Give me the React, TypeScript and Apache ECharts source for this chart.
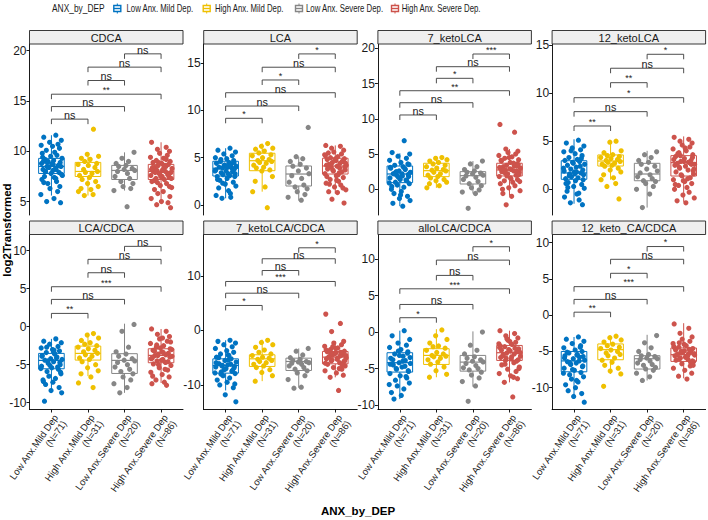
import React, { useEffect, useRef } from "react";
import * as echarts from "echarts";

const FONT = "'Liberation Sans', Arial, Helvetica, sans-serif";
const COLORS = ["#0073C2", "#EFC000", "#868686", "#CD534C"];

const GROUP_LABELS = ["Low Anx.Mild Dep", "High Anx.Mild Dep", "Low Anx.Severe Dep", "High Anx.Severe Dep"];
const GROUP_N = [71, 31, 20, 86];
const LEGEND_NAMES = ["Low Anx. Mild Dep.", "High Anx. Mild Dep.", "Low Anx. Severe Dep.", "High Anx. Severe Dep."];
const LEGEND_TITLE = "ANX_by_DEP";
const X_TITLE = "ANX_by_DEP";
const Y_TITLE = "log2Transformed";

const PANEL_TITLES = ["CDCA", "LCA", "7_ketoLCA", "12_ketoLCA", "LCA/CDCA", "7_ketoLCA/CDCA", "alloLCA/CDCA", "12_keto_CA/CDCA"];
const Y_TICKS = [
  [5, 10, 15, 20], [0, 5, 10, 15], [0, 5, 10, 15, 20], [0, 5, 10, 15],
  [-10, -5, 0, 5, 10], [-10, 0, 10], [-10, -5, 0, 5, 10], [-10, -5, 0, 5, 10],
];
const Y_RANGES = [
  [3.67, 20.67], [-1.07, 17.04], [-3.65, 20.61], [-2.67, 15.1],
  [-10.89, 12.13], [-14.5, 17.61], [-10.63, 13.41], [-13.0, 11.13],
];

// comparisons (group numbers)
const PAIRS = [[1, 2], [1, 3], [1, 4], [2, 3], [2, 4], [3, 4]];

// box stats per group: [lower whisker, Q1, median, Q3, upper whisker]
const BOX_CDCA = [[5.6, 7.8, 8.5, 9.3, 11.6], [5.6, 7.5, 8.0, 8.9, 9.8], [6.1, 7.2, 8.1, 8.6, 9.9], [5.0, 7.2, 8.0, 8.7, 10.9]];
const BOX_LCA = [[0.7, 3.06, 3.88, 4.62, 6.0], [1.4, 3.62, 4.68, 5.47, 6.5], [0.45, 2.0, 3.27, 4.12, 5.1], [1.2, 3.27, 4.12, 4.94, 6.3]];
const BOX_7K = [[-2.4, 0.94, 2.17, 3.3, 5.1], [0.2, 1.79, 2.64, 3.69, 4.6], [-0.6, 0.75, 1.93, 2.5, 4.0], [-0.9, 1.89, 2.74, 3.69, 5.7]];
const BOX_12K = [[-1.5, 1.04, 1.7, 2.97, 5.2], [1.0, 2.42, 2.94, 3.57, 5.0], [-1.9, 0.89, 1.59, 2.7, 4.0], [-1.3, 1.38, 2.77, 3.5, 5.5]];
const BOX_LCA_CDCA = [[-8.7, -5.53, -4.43, -3.51, -1.6], [-6.5, -4.39, -3.51, -2.55, -0.8], [-8.7, -6.15, -4.43, -3.55, 0.4], [-7.4, -4.74, -3.77, -2.9, -0.3]];
const BOX_7K_CDCA = [[-11.0, -7.83, -6.42, -5.2, -1.8], [-9.3, -6.6, -5.2, -4.46, -1.7], [-10.5, -7.34, -5.69, -5.08, -3.3], [-8.6, -6.12, -4.89, -3.85, -2.0]];
const BOX_ALLO_CDCA = [[-9.2, -5.49, -4.2, -2.83, 0.2], [-6.2, -4.44, -3.2, -2.28, 0.4], [-7.5, -5.36, -4.12, -3.2, 0.1], [-6.9, -3.89, -2.83, -1.83, 0.2]];
const BOX_12KCA_CDCA = [[-11.0, -7.8, -6.3, -5.0, -3.0], [-8.1, -6.14, -4.75, -3.96, -2.8], [-9.0, -7.42, -6.0, -5.58, -2.7], [-8.7, -6.37, -5.44, -4.52, -1.1]];

// observations per group (log2 values)
const PTS_CDCA = [
  [11.6, 11.4, 11.1, 10.9, 10.7, 10.6, 10.5, 10.3, 10.1, 9.9, 9.8, 9.6, 9.5, 9.3, 9.2, 9.1, 9.0, 8.9, 8.8, 8.7, 8.6, 8.5, 8.5, 8.4, 8.3, 8.2, 8.1, 8.0, 7.9, 7.8, 7.7, 7.5, 7.4, 7.2, 7.0, 6.8, 6.5, 6.3, 6.0, 5.7, 5.3, 5.0, 4.9, 9.0, 8.8, 8.6, 8.4, 8.2, 8.0, 7.6, 9.4, 8.7, 8.9, 7.3, 6.9],
  [12.2, 9.7, 9.5, 9.3, 9.2, 9.0, 8.8, 8.7, 8.6, 8.4, 8.2, 8.0, 7.9, 7.8, 7.6, 7.4, 7.2, 7.0, 6.8, 6.5, 6.3, 6.2, 6.0, 5.7, 5.6],
  [9.9, 9.3, 9.0, 8.8, 8.6, 8.5, 8.3, 8.2, 8.1, 8.0, 7.8, 7.5, 7.3, 7.0, 6.8, 6.5, 6.3, 6.1, 4.5],
  [10.9, 10.4, 10.2, 10.0, 9.8, 9.6, 9.4, 9.3, 9.1, 9.0, 8.9, 8.8, 8.7, 8.6, 8.5, 8.4, 8.3, 8.3, 8.2, 8.1, 8.0, 8.0, 7.9, 7.8, 7.7, 7.6, 7.5, 7.4, 7.3, 7.2, 7.0, 6.8, 6.6, 6.4, 6.2, 6.0, 5.8, 5.5, 5.3, 5.0, 4.9, 4.7, 4.4, 8.9, 8.6, 8.4, 8.1, 7.9, 7.7, 7.5, 7.3, 7.1, 8.5, 8.2, 9.2, 6.9, 6.5, 7.8],
];
const PTS_LCA = [
  [6.0, 5.8, 5.6, 5.4, 5.2, 5.0, 4.9, 4.7, 4.6, 4.5, 4.4, 4.3, 4.2, 4.1, 4.0, 4.0, 3.9, 3.8, 3.7, 3.6, 3.5, 3.4, 3.3, 3.2, 3.1, 3.0, 2.8, 2.6, 2.4, 2.2, 2.0, 1.8, 1.5, 1.0, 0.8, 0.7, 4.5, 4.2, 3.9, 3.6, 3.3, 4.8, 3.0, 2.7, 4.1, 3.8, 2.3, 1.2],
  [6.5, 6.2, 6.0, 5.9, 5.7, 5.5, 5.3, 5.2, 5.0, 4.8, 4.7, 4.6, 4.5, 4.4, 4.2, 4.0, 3.9, 3.7, 3.6, 3.0, 2.5, 1.9, 1.4, -0.3],
  [8.2, 5.1, 4.9, 4.6, 4.3, 4.1, 3.9, 3.6, 3.3, 3.1, 2.8, 2.4, 2.1, 1.9, 1.7, 1.4, 1.1, 0.8, 0.5],
  [6.3, 6.2, 6.0, 5.8, 5.6, 5.4, 5.3, 5.1, 5.0, 4.9, 4.8, 4.7, 4.6, 4.5, 4.4, 4.3, 4.2, 4.2, 4.1, 4.0, 3.9, 3.8, 3.7, 3.6, 3.5, 3.3, 3.1, 2.9, 2.7, 2.5, 2.3, 2.1, 1.9, 1.6, 1.4, 1.3, 0.6, 0.2, 5.2, 4.9, 4.6, 4.3, 4.0, 3.7, 3.4, 3.0, 2.6, 2.2, 1.8, 4.8, 4.4, 5.5, 3.2],
];
const PTS_7K = [
  [6.9, 5.2, 5.0, 4.7, 4.4, 4.1, 3.8, 3.6, 3.4, 3.2, 3.0, 2.8, 2.6, 2.4, 2.2, 2.2, 2.0, 1.8, 1.6, 1.4, 1.2, 1.0, 0.8, 0.6, 0.3, 0.0, -0.3, -0.6, -1.0, -1.3, -1.6, -2.0, -2.4, 3.1, 2.9, 2.5, 2.1, 1.7, 1.3, 0.9, 1.9, 2.3, 3.5, 0.4, -0.8],
  [4.5, 4.4, 4.2, 4.0, 3.8, 3.6, 3.4, 3.2, 3.0, 2.8, 2.7, 2.6, 2.4, 2.2, 2.0, 1.8, 1.6, 1.4, 1.2, 1.0, 0.8, 0.5, 0.2],
  [4.0, 3.6, 3.2, 2.8, 2.6, 2.4, 2.3, 2.2, 2.0, 1.9, 1.7, 1.4, 1.1, 0.8, 0.5, 0.2, -0.1, -0.4, -0.6, -2.7],
  [9.2, 8.1, 5.7, 5.4, 5.2, 5.0, 4.8, 4.6, 4.4, 4.2, 4.0, 3.8, 3.6, 3.4, 3.3, 3.2, 3.0, 2.9, 2.8, 2.7, 2.6, 2.5, 2.4, 2.2, 2.0, 1.8, 1.6, 1.4, 1.2, 1.0, 0.8, 0.5, 0.2, -0.2, -0.6, -1.0, -2.2, 3.5, 3.1, 2.9, 2.6, 2.3, 2.1, 1.9, 3.7, 4.1, 1.5, 2.7, 3.3, 4.5, 1.1, 0.0],
];
const PTS_12K = [
  [5.1, 4.8, 4.5, 4.3, 4.1, 3.9, 3.7, 3.5, 3.3, 3.1, 3.0, 2.9, 2.7, 2.6, 2.5, 2.3, 2.1, 2.0, 1.9, 1.8, 1.7, 1.6, 1.5, 1.3, 1.2, 1.1, 0.9, 0.7, 0.5, 0.3, 0.1, -0.2, -0.5, -0.8, -1.1, -1.4, -1.6, 2.8, 2.4, 2.2, 1.8, 1.4, 1.0, 0.6, 1.6, 3.2, 4.0, -0.4, 0.2],
  [5.0, 4.9, 4.0, 3.8, 3.6, 3.5, 3.4, 3.3, 3.2, 3.1, 3.0, 2.9, 2.8, 2.7, 2.6, 2.5, 2.4, 2.2, 2.0, 1.8, 1.5, 1.2, 1.0, 0.6, 0.3, -1.0],
  [3.9, 3.6, 3.3, 3.0, 2.8, 2.6, 2.4, 2.1, 1.9, 1.7, 1.5, 1.3, 1.1, 0.9, 0.8, 0.6, 0.3, 0.0, -0.5, -1.9],
  [5.4, 5.2, 5.0, 4.8, 4.6, 4.4, 4.2, 4.0, 3.8, 3.6, 3.4, 3.2, 3.0, 2.9, 2.8, 2.7, 2.6, 2.5, 2.4, 2.2, 2.0, 1.8, 1.6, 1.4, 1.2, 1.0, 0.8, 0.6, 0.4, 0.2, 0.0, -0.3, -0.6, -0.9, -1.2, -1.4, 3.5, 3.3, 3.1, 2.9, 2.7, 2.3, 1.9, 1.5, 1.1, 0.5, 4.3, 3.7, 2.6, 0.9, 2.1],
];
const PTS_LCA_CDCA = [
  [-1.6, -1.9, -2.1, -2.3, -2.6, -2.8, -3.0, -3.2, -3.4, -3.6, -3.8, -4.0, -4.2, -4.3, -4.4, -4.6, -4.8, -5.0, -5.2, -5.4, -5.6, -5.9, -6.2, -6.5, -6.8, -7.0, -7.3, -7.6, -8.0, -8.4, -8.7, -9.8, -3.5, -3.9, -4.1, -4.5, -4.7, -5.1, -5.3, -5.5, -3.1, -2.7, -6.0, -7.2],
  [-0.9, -1.1, -1.5, -1.8, -2.1, -2.3, -2.5, -2.7, -2.9, -3.1, -3.3, -3.5, -3.7, -3.9, -4.1, -4.3, -4.6, -5.0, -5.4, -5.8, -6.2, -6.6, -7.4, -8.0],
  [0.3, -0.6, -2.7, -3.3, -3.6, -3.9, -4.2, -4.4, -4.5, -4.7, -5.0, -5.3, -5.6, -5.9, -6.2, -6.6, -7.0, -7.5, -8.0, -8.7],
  [-0.3, -0.6, -1.0, -1.3, -1.6, -1.9, -2.2, -2.5, -2.7, -2.9, -3.1, -3.3, -3.5, -3.6, -3.7, -3.8, -3.9, -4.1, -4.3, -4.5, -4.7, -4.9, -5.1, -5.4, -5.7, -6.0, -6.3, -6.6, -7.0, -7.3, -7.5, -7.7, -2.8, -3.0, -3.2, -3.4, -3.8, -4.0, -4.2, -4.4, -4.6, -2.4, -2.0, -5.0, -5.6, -6.5, -1.5],
];
const PTS_7K_CDCA = [
  [-1.8, -2.0, -2.3, -2.6, -3.0, -3.3, -3.7, -4.0, -4.3, -4.6, -4.9, -5.2, -5.5, -5.8, -6.1, -6.3, -6.4, -6.6, -6.7, -7.0, -7.3, -7.6, -7.9, -8.3, -8.7, -9.1, -9.5, -10.0, -10.5, -11.8, -13.1, -5.0, -5.4, -5.9, -6.2, -6.5, -6.9, -7.2, -7.5, -7.8, -4.5, -8.0, -9.8],
  [-1.8, -2.2, -2.6, -3.1, -3.6, -4.0, -4.3, -4.6, -4.9, -5.1, -5.3, -5.5, -5.7, -5.9, -6.2, -6.5, -6.8, -7.2, -7.7, -8.3, -9.3],
  [-3.3, -3.8, -4.5, -5.0, -5.3, -5.5, -5.7, -5.8, -5.9, -6.0, -6.2, -6.5, -6.8, -7.1, -7.4, -7.8, -8.3, -9.0, -10.4, -10.6],
  [3.0, 1.3, -0.2, -2.0, -2.3, -2.6, -2.9, -3.2, -3.5, -3.8, -3.9, -4.1, -4.4, -4.5, -4.7, -4.8, -5.0, -5.2, -5.3, -5.6, -5.9, -6.2, -6.5, -6.8, -7.1, -7.4, -7.8, -8.2, -8.6, -11.0, -3.6, -4.0, -4.3, -4.6, -4.9, -5.1, -5.4, -5.7, -6.0, -3.3, -6.4, -4.2, -5.5, -3.0, -7.0],
];
const PTS_ALLO_CDCA = [
  [0.2, -0.5, -1.0, -1.5, -1.8, -2.1, -2.4, -2.7, -3.0, -3.3, -3.6, -3.9, -4.2, -4.3, -4.5, -4.8, -5.1, -5.4, -5.7, -6.0, -6.3, -6.6, -7.0, -7.4, -7.8, -8.3, -8.7, -9.2, -2.9, -3.2, -3.5, -3.8, -4.0, -4.4, -4.7, -5.0, -5.3, -2.6, -6.1, -7.2],
  [0.3, -0.5, -1.0, -1.5, -1.9, -2.0, -2.2, -2.5, -2.8, -3.0, -3.2, -3.3, -3.4, -3.6, -3.8, -4.1, -4.4, -4.8, -5.3, -5.8, -6.2],
  [0.0, -1.8, -2.5, -3.0, -3.4, -3.6, -3.8, -4.0, -4.1, -4.3, -4.6, -4.9, -5.0, -5.2, -5.5, -5.9, -6.3, -6.8, -7.4, -9.5],
  [0.2, -0.2, -0.5, -0.8, -1.1, -1.4, -1.6, -1.7, -2.0, -2.3, -2.5, -2.6, -2.7, -2.9, -3.0, -3.1, -3.3, -3.5, -3.7, -3.9, -4.2, -4.5, -4.8, -5.1, -5.4, -5.7, -6.0, -6.4, -6.9, -8.9, -1.9, -2.2, -2.4, -2.8, -3.2, -3.4, -3.6, -3.8, -2.1, -1.3, -4.0, -4.4, -5.0, -0.9, -6.2],
];
const PTS_12KCA_CDCA = [
  [-3.0, -3.3, -3.6, -3.9, -4.2, -4.5, -4.8, -5.0, -5.2, -5.4, -5.6, -5.8, -6.0, -6.2, -6.4, -6.6, -6.8, -7.0, -7.3, -7.6, -7.9, -8.2, -8.5, -8.8, -9.2, -9.6, -10.0, -10.4, -10.8, -11.2, -12.0, -5.1, -5.5, -5.9, -6.3, -6.7, -7.1, -7.5, -4.4, -8.0, -9.0, -6.5, -5.7],
  [-2.9, -3.1, -3.4, -3.7, -4.0, -4.2, -4.4, -4.6, -4.8, -5.0, -5.2, -5.4, -5.6, -5.9, -6.2, -6.5, -6.9, -7.3, -7.7, -8.1, -9.8],
  [-2.8, -3.8, -4.5, -5.0, -5.4, -5.6, -5.7, -5.9, -6.0, -6.1, -6.3, -6.6, -6.8, -6.9, -7.2, -7.4, -7.6, -8.0, -8.5, -9.0],
  [-1.2, -1.8, -2.5, -3.0, -3.3, -3.6, -3.9, -4.2, -4.4, -4.6, -4.8, -4.9, -5.0, -5.2, -5.3, -5.4, -5.5, -5.6, -5.8, -6.0, -6.1, -6.2, -6.4, -6.7, -7.0, -7.3, -7.6, -8.0, -8.4, -8.8, -4.5, -4.7, -5.1, -5.3, -5.5, -5.7, -5.9, -6.3, -4.3, -4.0, -6.5, -3.8, -6.9, -5.0, -5.6],
];

// significance brackets: heights (per pair) and labels
const BRK_Y = [
  [13.2, 14.45, 15.68, 17.04, 18.37, 19.69],
  [9.17, 10.47, 11.88, 13.23, 14.58, 15.99],
  [10.54, 12.28, 13.98, 15.74, 17.39, 19.19],
  [6.58, 8.07, 9.52, 11.08, 12.58, 14.03],
  [1.75, 3.59, 5.26, 7.1, 8.86, 10.57],
  [4.59, 6.84, 8.99, 11.0, 13.16, 15.17],
  [1.98, 3.8, 5.95, 7.79, 9.89, 11.73],
  [0.42, 2.18, 3.94, 5.78, 7.71, 9.47],
];
const BRK_LAB = [
  ["ns", "ns", "**", "ns", "ns", "ns"],
  ["*", "ns", "ns", "*", "ns", "*"],
  ["ns", "ns", "**", "*", "ns", "***"],
  ["**", "ns", "*", "**", "ns", "*"],
  ["**", "ns", "***", "ns", "ns", "ns"],
  ["*", "ns", "***", "ns", "ns", "*"],
  ["*", "ns", "***", "ns", "ns", "*"],
  ["**", "ns", "***", "*", "ns", "*"],
];

const BOXES = [BOX_CDCA, BOX_LCA, BOX_7K, BOX_12K, BOX_LCA_CDCA, BOX_7K_CDCA, BOX_ALLO_CDCA, BOX_12KCA_CDCA];
const POINTS = [PTS_CDCA, PTS_LCA, PTS_7K, PTS_12K, PTS_LCA_CDCA, PTS_7K_CDCA, PTS_ALLO_CDCA, PTS_12KCA_CDCA];

// horizontal jitter offsets (category units), hand-set
const JITTER = [0.12, -0.21, 0.27, -0.05, 0.18, -0.28, 0.03, 0.22, -0.14, 0.09, -0.25, 0.15, -0.02, 0.29, -0.18, 0.06, -0.09, 0.24, -0.27, 0.01, 0.19, -0.12, 0.26, -0.07, 0.11, -0.23, 0.04, -0.16, 0.21, -0.01, 0.28, -0.19, 0.08, -0.26, 0.14, -0.1, 0.23, -0.04, 0.17, -0.29, 0.07, -0.13, 0.25, -0.22, 0.02, 0.2, -0.08, 0.13, -0.17, 0.3, -0.24, 0.05, -0.11];

// layout
const COL_LEFT = [29.5, 203.7, 377.9, 552.1];
const PANEL_W = 153.5;
const ROW_TOP = [44, 234.5];
const ROW_H = [171, 175];
const STRIP_H = 13.5;
const BOX_W = 0.7;
const TIP_PX = 5;

function buildOption() {
  const grids: any[] = [];
  const xAxes: any[] = [];
  const yAxes: any[] = [];
  const series: any[] = [];
  const graphics: any[] = [];

  PANEL_TITLES.forEach((title, p) => {
    const row = p < 4 ? 0 : 1;
    const col = p % 4;
    const left = COL_LEFT[col];
    const top = ROW_TOP[row];
    grids.push({ left, top, width: PANEL_W, height: ROW_H[row], containLabel: false });
    const bottom = row === 1;
    xAxes.push({
      type: "value", gridIndex: p, min: 0.4, max: 4.6,
      axisLine: { show: bottom, onZero: false, lineStyle: { color: "#000", width: 0.9 } },
      axisTick: { show: bottom, customValues: [1, 2, 3, 4], length: 3, lineStyle: { color: "#000", width: 0.9 } },
      axisLabel: {
        show: bottom, customValues: [1, 2, 3, 4], rotate: 55, margin: 3,
        align: "right", verticalAlign: "top", lineHeight: 10.5,
        fontSize: 9.6, fontFamily: FONT, color: "#1a1a1a",
        formatter: (v: number) => `${GROUP_LABELS[Math.round(v) - 1]}\n(N=${GROUP_N[Math.round(v) - 1]})`,
      },
      splitLine: { show: false },
    });
    yAxes.push({
      type: "value", gridIndex: p, min: Y_RANGES[p][0], max: Y_RANGES[p][1],
      axisLine: { show: true, onZero: false, lineStyle: { color: "#000", width: 0.9 } },
      axisTick: { show: true, customValues: Y_TICKS[p], length: 3, lineStyle: { color: "#000", width: 0.9 } },
      axisLabel: { customValues: Y_TICKS[p], fontSize: 12, fontFamily: FONT, color: "#1a1a1a", margin: 3 },
      splitLine: { show: false },
    });

    // boxes
    series.push({
      type: "custom", xAxisIndex: p, yAxisIndex: p, silent: true, z: 2,
      data: BOXES[p].map((b, g) => [g + 1, b[0], b[1], b[2], b[3], b[4], g]),
      encode: { x: 0, y: [1, 2, 3, 4, 5] },
      renderItem: (_params: any, api: any) => {
        const x = api.value(0);
        const lo = api.coord([x, api.value(1)]);
        const q1 = api.coord([x, api.value(2)]);
        const md = api.coord([x, api.value(3)]);
        const q3 = api.coord([x, api.value(4)]);
        const hi = api.coord([x, api.value(5)]);
        const w = api.size([BOX_W, 0])[0];
        const c = COLORS[api.value(6)];
        const l = q1[0] - w / 2;
        return {
          type: "group",
          children: [
            { type: "line", shape: { x1: hi[0], y1: hi[1], x2: q3[0], y2: q3[1] }, style: { stroke: c, lineWidth: 1 } },
            { type: "line", shape: { x1: q1[0], y1: q1[1], x2: lo[0], y2: lo[1] }, style: { stroke: c, lineWidth: 1 } },
            { type: "rect", shape: { x: l, y: q3[1], width: w, height: q1[1] - q3[1] }, style: { fill: "#fff", stroke: c, lineWidth: 1 } },
            { type: "line", shape: { x1: l, y1: md[1], x2: l + w, y2: md[1] }, style: { stroke: c, lineWidth: 1.2 } },
          ],
        };
      },
    });

    // jittered points
    POINTS[p].forEach((vals, g) => {
      series.push({
        type: "scatter", xAxisIndex: p, yAxisIndex: p, silent: true, z: 3,
        symbol: "circle", symbolSize: 5.2,
        itemStyle: { color: COLORS[g], opacity: 1 },
        data: vals.map((v, i) => [g + 1 + JITTER[(i + g * 11) % JITTER.length], v]),
      });
    });

    // brackets
    const labs = BRK_LAB[p];
    series.push({
      type: "custom", xAxisIndex: p, yAxisIndex: p, silent: true, z: 4, clip: false,
      data: PAIRS.map((pr, k) => [pr[0], pr[1], BRK_Y[p][k], k]),
      encode: { x: [0, 1], y: 2 },
      renderItem: (_params: any, api: any) => {
        const a = api.coord([api.value(0), api.value(2)]);
        const b = api.coord([api.value(1), api.value(2)]);
        const lab = labs[api.value(3)];
        const star = lab.indexOf("*") >= 0;
        const cx = (a[0] + b[0]) / 2;
        return {
          type: "group",
          children: [
            {
              type: "polyline",
              shape: { points: [[a[0], a[1] + TIP_PX], [a[0], a[1]], [b[0], b[1]], [b[0], b[1] + TIP_PX]] },
              style: { stroke: "#3a3a3a", lineWidth: 0.9, fill: "none" },
            },
            star
              ? {
                  type: "text", x: cx, y: a[1] - 4.2,
                  style: { text: lab, align: "center", verticalAlign: "middle", lineHeight: 6, fontSize: 9, fontFamily: FONT, fill: "#1a1a1a" },
                }
              : {
                  type: "text", x: cx, y: a[1] + 0.3,
                  style: { text: lab, align: "center", verticalAlign: "bottom", lineHeight: 9, fontSize: 10.8, fontFamily: FONT, fill: "#1a1a1a" },
                },
          ],
        };
      },
    });

    // strip
    graphics.push({
      type: "rect", silent: true, z: 10,
      shape: { x: left, y: top - STRIP_H, width: PANEL_W, height: STRIP_H },
      style: { fill: "#EFEFEF", stroke: "#222", lineWidth: 0.9 },
    });
    graphics.push({
      type: "text", silent: true, z: 11, x: left + PANEL_W / 2, y: top - STRIP_H / 2 + 0.5,
      style: { text: title, align: "center", verticalAlign: "middle", fontSize: 11, fontFamily: FONT, fill: "#1a1a1a" },
    });
  });

  // legend (condensed text as in the reference)
  const legY = 8.5;
  graphics.push({
    type: "text", silent: true, x: 52, y: legY, scaleX: 0.84,
    style: { text: LEGEND_TITLE, align: "left", verticalAlign: "middle", fontSize: 10, fontFamily: FONT, fill: "#1a1a1a" },
  });
  const keyX = [117.3, 206.7, 299, 395];
  const txtX = [126.5, 215, 306, 401.7];
  LEGEND_NAMES.forEach((name, g) => {
    const cx = keyX[g];
    const c = COLORS[g];
    graphics.push({ type: "line", silent: true, shape: { x1: cx, y1: legY - 5, x2: cx, y2: legY + 5 }, style: { stroke: c, lineWidth: 1 } });
    graphics.push({ type: "rect", silent: true, shape: { x: cx - 3.5, y: legY - 3, width: 7, height: 6 }, style: { fill: "#fff", stroke: c, lineWidth: 1.4 } });
    graphics.push({ type: "line", silent: true, shape: { x1: cx - 3.5, y1: legY, x2: cx + 3.5, y2: legY }, style: { stroke: c, lineWidth: 1.4 } });
    graphics.push({
      type: "text", silent: true, x: txtX[g], y: legY, scaleX: 0.78,
      style: { text: name, align: "left", verticalAlign: "middle", fontSize: 10, fontFamily: FONT, fill: "#1a1a1a" },
    });
  });

  // axis titles
  graphics.push({
    type: "text", silent: true, x: 7, y: 230, rotation: Math.PI / 2,
    style: { text: Y_TITLE, align: "center", verticalAlign: "middle", fontSize: 11.5, fontWeight: "bold", fontFamily: FONT, fill: "#000" },
  });
  graphics.push({
    type: "text", silent: true, x: 358, y: 510.5,
    style: { text: X_TITLE, align: "center", verticalAlign: "middle", fontSize: 11.5, fontWeight: "bold", fontFamily: FONT, fill: "#000" },
  });

  return {
    animation: false,
    backgroundColor: "#ffffff",
    grid: grids,
    xAxis: xAxes,
    yAxis: yAxes,
    series,
    graphic: graphics,
  };
}

export default function App() {
  const ref = useRef<HTMLDivElement>(null);
  useEffect(() => {
    if (!ref.current) return;
    const chart = echarts.init(ref.current, null, { renderer: "svg" });
    chart.setOption(buildOption() as any);
    return () => chart.dispose();
  }, []);
  return (
    <div
      ref={ref}
      style={{ position: "fixed", left: 0, top: 0, width: 708, height: 520, background: "#fff" }}
    />
  );
}
